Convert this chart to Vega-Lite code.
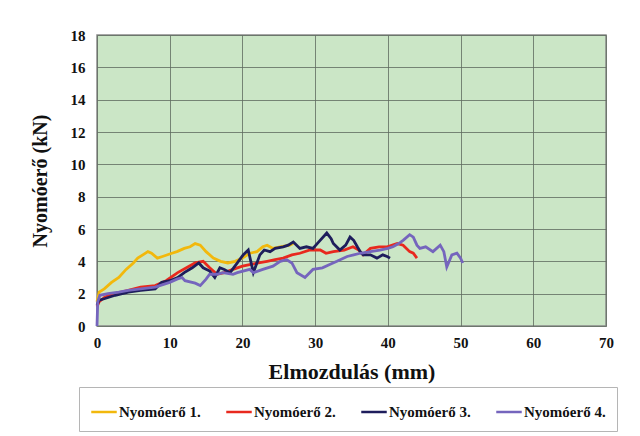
{
  "$schema": "https://vega.github.io/schema/vega-lite/v6.json",
  "width": 509,
  "height": 291,
  "autosize": {"type": "none"},
  "padding": {"left": 97, "top": 35, "right": 34, "bottom": 110},
  "background": "white",
  "config": {
    "view": {"fill": "#cbe6c6", "stroke": "#8a8a8a", "strokeWidth": 1.5},
    "font": "Liberation Serif"
  },
  "data": {
    "values": [
      {"s": "Nyomóerő 1.", "x": 0, "y": 1.5},
      {"s": "Nyomóerő 1.", "x": 0.3, "y": 2.1},
      {"s": "Nyomóerő 1.", "x": 1, "y": 2.3},
      {"s": "Nyomóerő 1.", "x": 2, "y": 2.7},
      {"s": "Nyomóerő 1.", "x": 3, "y": 3.0},
      {"s": "Nyomóerő 1.", "x": 4, "y": 3.5},
      {"s": "Nyomóerő 1.", "x": 5, "y": 3.9},
      {"s": "Nyomóerő 1.", "x": 5.6, "y": 4.2},
      {"s": "Nyomóerő 1.", "x": 6.3, "y": 4.4},
      {"s": "Nyomóerő 1.", "x": 7, "y": 4.6},
      {"s": "Nyomóerő 1.", "x": 7.5, "y": 4.5},
      {"s": "Nyomóerő 1.", "x": 8.3, "y": 4.2},
      {"s": "Nyomóerő 1.", "x": 9, "y": 4.3},
      {"s": "Nyomóerő 1.", "x": 10.3, "y": 4.5},
      {"s": "Nyomóerő 1.", "x": 11, "y": 4.6},
      {"s": "Nyomóerő 1.", "x": 12, "y": 4.8},
      {"s": "Nyomóerő 1.", "x": 12.8, "y": 4.9},
      {"s": "Nyomóerő 1.", "x": 13.5, "y": 5.1},
      {"s": "Nyomóerő 1.", "x": 14.2, "y": 5.0},
      {"s": "Nyomóerő 1.", "x": 15, "y": 4.6},
      {"s": "Nyomóerő 1.", "x": 16, "y": 4.2},
      {"s": "Nyomóerő 1.", "x": 17, "y": 4.0},
      {"s": "Nyomóerő 1.", "x": 18, "y": 3.9},
      {"s": "Nyomóerő 1.", "x": 19, "y": 4.0},
      {"s": "Nyomóerő 1.", "x": 20, "y": 4.2},
      {"s": "Nyomóerő 1.", "x": 21, "y": 4.5},
      {"s": "Nyomóerő 1.", "x": 22, "y": 4.6},
      {"s": "Nyomóerő 1.", "x": 22.8, "y": 4.9},
      {"s": "Nyomóerő 1.", "x": 23.4, "y": 5.0},
      {"s": "Nyomóerő 1.", "x": 24.2, "y": 4.8},
      {"s": "Nyomóerő 1.", "x": 25.2, "y": 4.9},
      {"s": "Nyomóerő 1.", "x": 26.5, "y": 5.0},
      {"s": "Nyomóerő 1.", "x": 27, "y": 5.1},

      {"s": "Nyomóerő 2.", "x": 0, "y": 1.2},
      {"s": "Nyomóerő 2.", "x": 0.3, "y": 1.5},
      {"s": "Nyomóerő 2.", "x": 1.1, "y": 1.8},
      {"s": "Nyomóerő 2.", "x": 2.5, "y": 2.0},
      {"s": "Nyomóerő 2.", "x": 4.3, "y": 2.2},
      {"s": "Nyomóerő 2.", "x": 6, "y": 2.4},
      {"s": "Nyomóerő 2.", "x": 8, "y": 2.5},
      {"s": "Nyomóerő 2.", "x": 9.5, "y": 2.8},
      {"s": "Nyomóerő 2.", "x": 11.1, "y": 3.3},
      {"s": "Nyomóerő 2.", "x": 12.3, "y": 3.6},
      {"s": "Nyomóerő 2.", "x": 13.5, "y": 3.9},
      {"s": "Nyomóerő 2.", "x": 14.6, "y": 4.0},
      {"s": "Nyomóerő 2.", "x": 15.5, "y": 3.6},
      {"s": "Nyomóerő 2.", "x": 16.5, "y": 3.2},
      {"s": "Nyomóerő 2.", "x": 17.5, "y": 3.3},
      {"s": "Nyomóerő 2.", "x": 18.7, "y": 3.5},
      {"s": "Nyomóerő 2.", "x": 20, "y": 3.7},
      {"s": "Nyomóerő 2.", "x": 21, "y": 3.8},
      {"s": "Nyomóerő 2.", "x": 22.2, "y": 3.9},
      {"s": "Nyomóerő 2.", "x": 23.4, "y": 4.0},
      {"s": "Nyomóerő 2.", "x": 24.5, "y": 4.1},
      {"s": "Nyomóerő 2.", "x": 25.6, "y": 4.2},
      {"s": "Nyomóerő 2.", "x": 26.8, "y": 4.4},
      {"s": "Nyomóerő 2.", "x": 27.9, "y": 4.5},
      {"s": "Nyomóerő 2.", "x": 29.3, "y": 4.7},
      {"s": "Nyomóerő 2.", "x": 30.7, "y": 4.7},
      {"s": "Nyomóerő 2.", "x": 31.5, "y": 4.5},
      {"s": "Nyomóerő 2.", "x": 32.5, "y": 4.6},
      {"s": "Nyomóerő 2.", "x": 34, "y": 4.7},
      {"s": "Nyomóerő 2.", "x": 35.2, "y": 4.9},
      {"s": "Nyomóerő 2.", "x": 36, "y": 4.7},
      {"s": "Nyomóerő 2.", "x": 36.6, "y": 4.4},
      {"s": "Nyomóerő 2.", "x": 37.6, "y": 4.8},
      {"s": "Nyomóerő 2.", "x": 38.8, "y": 4.9},
      {"s": "Nyomóerő 2.", "x": 39.9, "y": 4.9},
      {"s": "Nyomóerő 2.", "x": 41.3, "y": 5.1},
      {"s": "Nyomóerő 2.", "x": 42.1, "y": 5.0},
      {"s": "Nyomóerő 2.", "x": 43, "y": 4.6},
      {"s": "Nyomóerő 2.", "x": 43.5, "y": 4.5},
      {"s": "Nyomóerő 2.", "x": 44, "y": 4.2},

      {"s": "Nyomóerő 3.", "x": 0, "y": 1.3},
      {"s": "Nyomóerő 3.", "x": 0.3, "y": 1.6},
      {"s": "Nyomóerő 3.", "x": 1.1, "y": 1.7},
      {"s": "Nyomóerő 3.", "x": 2.5, "y": 1.9},
      {"s": "Nyomóerő 3.", "x": 4.3, "y": 2.1},
      {"s": "Nyomóerő 3.", "x": 6, "y": 2.2},
      {"s": "Nyomóerő 3.", "x": 8, "y": 2.3},
      {"s": "Nyomóerő 3.", "x": 8.9, "y": 2.7},
      {"s": "Nyomóerő 3.", "x": 10, "y": 2.8},
      {"s": "Nyomóerő 3.", "x": 11.1, "y": 3.0},
      {"s": "Nyomóerő 3.", "x": 12, "y": 3.3},
      {"s": "Nyomóerő 3.", "x": 13.1, "y": 3.6},
      {"s": "Nyomóerő 3.", "x": 14, "y": 3.9},
      {"s": "Nyomóerő 3.", "x": 14.6, "y": 3.6},
      {"s": "Nyomóerő 3.", "x": 15.5, "y": 3.4},
      {"s": "Nyomóerő 3.", "x": 16.2, "y": 3.0},
      {"s": "Nyomóerő 3.", "x": 16.9, "y": 3.6},
      {"s": "Nyomóerő 3.", "x": 17.5, "y": 3.5},
      {"s": "Nyomóerő 3.", "x": 18.3, "y": 3.3},
      {"s": "Nyomóerő 3.", "x": 19.3, "y": 3.9},
      {"s": "Nyomóerő 3.", "x": 20.1, "y": 4.4},
      {"s": "Nyomóerő 3.", "x": 20.8, "y": 4.7},
      {"s": "Nyomóerő 3.", "x": 21.5, "y": 3.3},
      {"s": "Nyomóerő 3.", "x": 22.4, "y": 4.4},
      {"s": "Nyomóerő 3.", "x": 23, "y": 4.7},
      {"s": "Nyomóerő 3.", "x": 23.8, "y": 4.6},
      {"s": "Nyomóerő 3.", "x": 24.5, "y": 4.8},
      {"s": "Nyomóerő 3.", "x": 25.6, "y": 4.9},
      {"s": "Nyomóerő 3.", "x": 26.3, "y": 5.0},
      {"s": "Nyomóerő 3.", "x": 27, "y": 5.2},
      {"s": "Nyomóerő 3.", "x": 27.9, "y": 4.8},
      {"s": "Nyomóerő 3.", "x": 28.8, "y": 4.9},
      {"s": "Nyomóerő 3.", "x": 29.7, "y": 4.8},
      {"s": "Nyomóerő 3.", "x": 30.5, "y": 5.2},
      {"s": "Nyomóerő 3.", "x": 31.6, "y": 5.75},
      {"s": "Nyomóerő 3.", "x": 32.2, "y": 5.4},
      {"s": "Nyomóerő 3.", "x": 32.5, "y": 5.1},
      {"s": "Nyomóerő 3.", "x": 33.4, "y": 4.7},
      {"s": "Nyomóerő 3.", "x": 34.2, "y": 5.0},
      {"s": "Nyomóerő 3.", "x": 34.8, "y": 5.5},
      {"s": "Nyomóerő 3.", "x": 35.3, "y": 5.3},
      {"s": "Nyomóerő 3.", "x": 35.8, "y": 4.9},
      {"s": "Nyomóerő 3.", "x": 36.2, "y": 4.6},
      {"s": "Nyomóerő 3.", "x": 36.6, "y": 4.4},
      {"s": "Nyomóerő 3.", "x": 37.6, "y": 4.4},
      {"s": "Nyomóerő 3.", "x": 38.5, "y": 4.2},
      {"s": "Nyomóerő 3.", "x": 39.3, "y": 4.4},
      {"s": "Nyomóerő 3.", "x": 39.9, "y": 4.3},
      {"s": "Nyomóerő 3.", "x": 40.3, "y": 4.2},

      {"s": "Nyomóerő 4.", "x": 0, "y": 0},
      {"s": "Nyomóerő 4.", "x": 0.1, "y": 1.5},
      {"s": "Nyomóerő 4.", "x": 0.4, "y": 1.9},
      {"s": "Nyomóerő 4.", "x": 1.5, "y": 2.0},
      {"s": "Nyomóerő 4.", "x": 3, "y": 2.1},
      {"s": "Nyomóerő 4.", "x": 4.3, "y": 2.2},
      {"s": "Nyomóerő 4.", "x": 6, "y": 2.3},
      {"s": "Nyomóerő 4.", "x": 8, "y": 2.4},
      {"s": "Nyomóerő 4.", "x": 10, "y": 2.7},
      {"s": "Nyomóerő 4.", "x": 11, "y": 2.9},
      {"s": "Nyomóerő 4.", "x": 11.7, "y": 3.0},
      {"s": "Nyomóerő 4.", "x": 12.1, "y": 2.8},
      {"s": "Nyomóerő 4.", "x": 13.5, "y": 2.65},
      {"s": "Nyomóerő 4.", "x": 14.2, "y": 2.5},
      {"s": "Nyomóerő 4.", "x": 15, "y": 2.9},
      {"s": "Nyomóerő 4.", "x": 15.5, "y": 3.2},
      {"s": "Nyomóerő 4.", "x": 16.5, "y": 3.2},
      {"s": "Nyomóerő 4.", "x": 17.3, "y": 3.3},
      {"s": "Nyomóerő 4.", "x": 18.7, "y": 3.2},
      {"s": "Nyomóerő 4.", "x": 19.3, "y": 3.3},
      {"s": "Nyomóerő 4.", "x": 21, "y": 3.5},
      {"s": "Nyomóerő 4.", "x": 21.5, "y": 3.3},
      {"s": "Nyomóerő 4.", "x": 22.8, "y": 3.5},
      {"s": "Nyomóerő 4.", "x": 24.2, "y": 3.7},
      {"s": "Nyomóerő 4.", "x": 25.2, "y": 4.0},
      {"s": "Nyomóerő 4.", "x": 26.1, "y": 4.1},
      {"s": "Nyomóerő 4.", "x": 26.8, "y": 3.9},
      {"s": "Nyomóerő 4.", "x": 27.5, "y": 3.3},
      {"s": "Nyomóerő 4.", "x": 28.6, "y": 3.0},
      {"s": "Nyomóerő 4.", "x": 29.7, "y": 3.5},
      {"s": "Nyomóerő 4.", "x": 31, "y": 3.6},
      {"s": "Nyomóerő 4.", "x": 32, "y": 3.8},
      {"s": "Nyomóerő 4.", "x": 33, "y": 4.0},
      {"s": "Nyomóerő 4.", "x": 34.4, "y": 4.3},
      {"s": "Nyomóerő 4.", "x": 35.3, "y": 4.4},
      {"s": "Nyomóerő 4.", "x": 36.2, "y": 4.5},
      {"s": "Nyomóerő 4.", "x": 37.6, "y": 4.6},
      {"s": "Nyomóerő 4.", "x": 38.9, "y": 4.7},
      {"s": "Nyomóerő 4.", "x": 40, "y": 4.8},
      {"s": "Nyomóerő 4.", "x": 40.7, "y": 4.9},
      {"s": "Nyomóerő 4.", "x": 41.5, "y": 5.1},
      {"s": "Nyomóerő 4.", "x": 42.1, "y": 5.3},
      {"s": "Nyomóerő 4.", "x": 43, "y": 5.65},
      {"s": "Nyomóerő 4.", "x": 43.5, "y": 5.5},
      {"s": "Nyomóerő 4.", "x": 44, "y": 5.0},
      {"s": "Nyomóerő 4.", "x": 44.4, "y": 4.8},
      {"s": "Nyomóerő 4.", "x": 45.2, "y": 4.9},
      {"s": "Nyomóerő 4.", "x": 46.2, "y": 4.6},
      {"s": "Nyomóerő 4.", "x": 47.2, "y": 5.0},
      {"s": "Nyomóerő 4.", "x": 47.7, "y": 4.6},
      {"s": "Nyomóerő 4.", "x": 48.1, "y": 3.65},
      {"s": "Nyomóerő 4.", "x": 48.8, "y": 4.4},
      {"s": "Nyomóerő 4.", "x": 49.5, "y": 4.5},
      {"s": "Nyomóerő 4.", "x": 50, "y": 4.2},
      {"s": "Nyomóerő 4.", "x": 50.3, "y": 3.9}
    ]
  },
  "mark": {"type": "line", "strokeWidth": 2.8, "interpolate": "linear"},
  "encoding": {
    "x": {
      "field": "x", "type": "quantitative",
      "scale": {"domain": [0, 70], "nice": false},
      "axis": {
        "title": "Elmozdulás (mm)", "values": [0, 10, 20, 30, 40, 50, 60, 70],
        "grid": true, "gridColor": "#5f6b5f", "gridWidth": 1, "gridOpacity": 0.8,
        "domain": false, "ticks": false, "labelFlush": false, "labelBound": false, "labelOverlap": false,
        "labelFont": "Liberation Serif", "labelFontWeight": "bold", "labelFontSize": 15, "labelColor": "#111",
        "labelPadding": 9,
        "titleFont": "Liberation Serif", "titleFontWeight": "bold", "titleFontSize": 22, "titleColor": "#111",
        "titlePadding": 11
      }
    },
    "y": {
      "field": "y", "type": "quantitative",
      "scale": {"domain": [0, 18], "nice": false},
      "axis": {
        "title": "Nyomóerő (kN)", "values": [0, 2, 4, 6, 8, 10, 12, 14, 16, 18],
        "grid": true, "gridColor": "#5f6b5f", "gridWidth": 1, "gridOpacity": 0.8,
        "domain": false, "ticks": false, "labelFlush": false, "labelBound": false, "labelOverlap": false,
        "labelFont": "Liberation Serif", "labelFontWeight": "bold", "labelFontSize": 15, "labelColor": "#111",
        "labelPadding": 12,
        "titleFont": "Liberation Serif", "titleFontWeight": "bold", "titleFontSize": 20, "titleColor": "#111",
        "titlePadding": 20
      }
    },
    "color": {
      "field": "s", "type": "nominal",
      "scale": {
        "domain": ["Nyomóerő 1.", "Nyomóerő 2.", "Nyomóerő 3.", "Nyomóerő 4."],
        "range": ["#f2b80c", "#e8291e", "#1e1d5c", "#7565bd"]
      },
      "legend": {
        "title": null, "orient": "none", "direction": "horizontal", "columns": 4,
        "legendX": -18, "legendY": 352,
        "symbolType": "stroke", "symbolSize": 650, "symbolStrokeWidth": 2.5,
        "labelFont": "Liberation Serif", "labelFontWeight": "bold", "labelFontSize": 15, "labelColor": "#111",
        "labelOffset": 1, "columnPadding": 20,
        "fillColor": "white", "strokeColor": "#b5b5b5", "padding": 11,
        "offset": 0
      }
    }
  }
}
